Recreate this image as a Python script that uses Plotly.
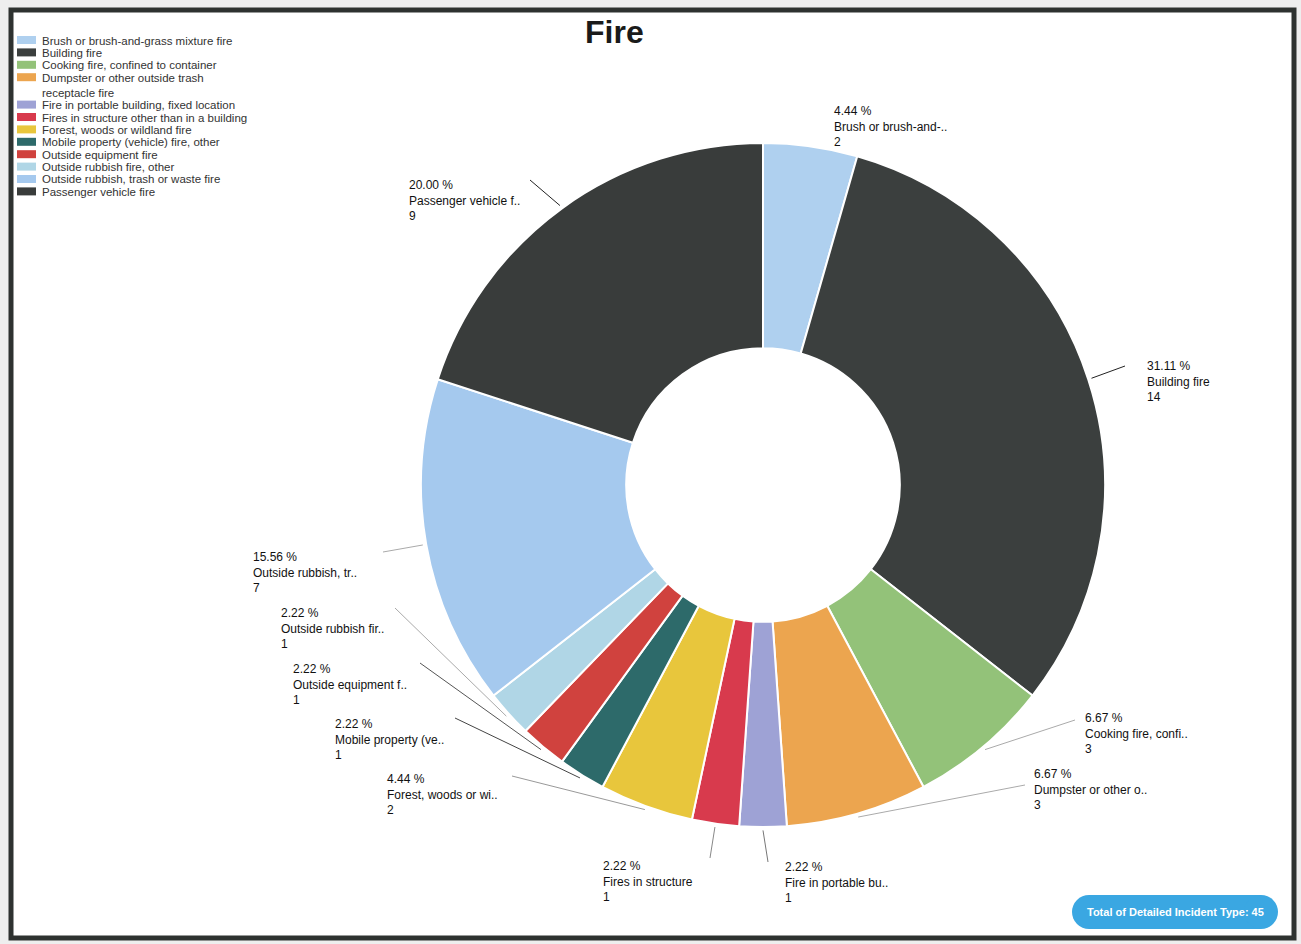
import math

import plotly.graph_objects as go

# Slice data (clockwise from 12 o'clock)
categories = [
    "Brush or brush-and-grass mixture fire",
    "Building fire",
    "Cooking fire, confined to container",
    "Dumpster or other outside trash receptacle fire",
    "Fire in portable building, fixed location",
    "Fires in structure other than in a building",
    "Forest, woods or wildland fire",
    "Mobile property (vehicle) fire, other",
    "Outside equipment fire",
    "Outside rubbish fire, other",
    "Outside rubbish, trash or waste fire",
    "Passenger vehicle fire",
]
counts = [2, 14, 3, 3, 1, 1, 2, 1, 1, 1, 7, 9]
short_labels = [
    "Brush or brush-and-..",
    "Building fire",
    "Cooking fire, confi..",
    "Dumpster or other o..",
    "Fire in portable bu..",
    "Fires in structure",
    "Forest, woods or wi..",
    "Mobile property (ve..",
    "Outside equipment f..",
    "Outside rubbish fir..",
    "Outside rubbish, tr..",
    "Passenger vehicle f..",
]
colors = [
    "#afd0ef", "#3b3f3e", "#93c279", "#eca54f", "#9ea2d5", "#d83a4d",
    "#e8c63c", "#2d6a6a", "#d0423e", "#b0d6e6", "#a5c9ee", "#393c3b",
]

W, H = 1301, 944
CX, CY, R = 763, 485, 342
HOLE = 0.40

# label placement (left x, top y) in pixels, and where each leader line ends
label_pos = [
    (832, 102), (1145, 357), (1083, 709), (1032, 765), (783, 858), (601, 857),
    (385, 770), (333, 715), (291, 660), (279, 604), (251, 548), (407, 176),
]
leader_end = [
    None, (1125, 366), (1075, 720), (1025, 785), (768, 862), (710, 858),
    (512, 776), (455, 718), (420, 663), (395, 608), (383, 552), (530, 180),
]
leader_color = [
    None, "#222222", "#aaaaaa", "#aaaaaa", "#777777", "#888888",
    "#999999", "#444444", "#555555", "#aaaaaa", "#aaaaaa", "#222222",
]


def px(x):
    return x / W


def py(y):
    return 1 - y / H


total = sum(counts)
FONT = "Liberation Sans, Arial, sans-serif"

fig = go.Figure(
    go.Pie(
        labels=categories,
        values=counts,
        sort=False,
        direction="clockwise",
        rotation=0,
        hole=HOLE,
        marker=dict(colors=colors, line=dict(color="white", width=2)),
        textinfo="none",
        hoverinfo="label+value+percent",
        showlegend=False,
        domain=dict(x=[px(CX - R), px(CX + R)], y=[py(CY + R), py(CY - R)]),
    )
)

shapes = [
    # scanned page frame
    dict(type="rect", xref="paper", yref="paper",
         x0=px(11), x1=px(1294), y0=py(938), y1=py(10),
         line=dict(color="#2e3230", width=5), fillcolor="white", layer="below"),
]
annotations = []

# slice labels + leader lines
cum = 0
for i, v in enumerate(counts):
    mid = (cum + v / 2) / total * 2 * math.pi
    cum += v
    ex = CX + R * 1.01 * math.sin(mid)
    ey = CY - R * 1.01 * math.cos(mid)
    if leader_end[i] is not None:
        lx, ly = leader_end[i]
        shapes.append(dict(type="line", xref="paper", yref="paper",
                           x0=px(ex), y0=py(ey), x1=px(lx), y1=py(ly),
                           line=dict(color=leader_color[i], width=1)))
    tx, ty = label_pos[i]
    annotations.append(dict(
        x=px(tx), y=py(ty), xref="paper", yref="paper",
        xanchor="left", yanchor="top", align="left", showarrow=False,
        text=f"{v / total * 100:.2f} %<br>{short_labels[i]}<br>{v}",
        font=dict(family=FONT, size=12, color="#111111"),
    ))

# hand-drawn compact legend
for i, name in enumerate(categories):
    y = 40 + 12.4 * i + (15 if i >= 4 else 0)
    shapes.append(dict(type="rect", xref="paper", yref="paper",
                       x0=px(17), x1=px(36), y0=py(y + 4), y1=py(y - 4),
                       fillcolor=colors[i], line=dict(width=0)))
    label = name.replace("outside trash receptacle", "outside trash<br>receptacle")
    annotations.append(dict(
        x=px(40), y=py(y - 7.5), xref="paper", yref="paper",
        xanchor="left", yanchor="top", align="left", showarrow=False,
        text=label, font=dict(family=FONT, size=11.5, color="#333333"),
    ))

# title
annotations.append(dict(
    x=px(614), y=py(32), xref="paper", yref="paper", showarrow=False,
    xanchor="center", yanchor="middle", text="<b>Fire</b>",
    font=dict(family=FONT, size=32, color="#1a1a1a"),
))

# total badge (pill)
bx0, bx1, by0, by1 = 1072, 1278, 895, 929
rad = (by1 - by0) / 2
badge = "#3aa7e2"
shapes += [
    dict(type="rect", xref="paper", yref="paper", x0=px(bx0 + rad), x1=px(bx1 - rad),
         y0=py(by1), y1=py(by0), fillcolor=badge, line=dict(width=0)),
    dict(type="circle", xref="paper", yref="paper", x0=px(bx0), x1=px(bx0 + 2 * rad),
         y0=py(by1), y1=py(by0), fillcolor=badge, line=dict(width=0)),
    dict(type="circle", xref="paper", yref="paper", x0=px(bx1 - 2 * rad), x1=px(bx1),
         y0=py(by1), y1=py(by0), fillcolor=badge, line=dict(width=0)),
]
annotations.append(dict(
    x=px((bx0 + bx1) / 2), y=py((by0 + by1) / 2), xref="paper", yref="paper",
    showarrow=False, xanchor="center", yanchor="middle",
    text=f"<b>Total of Detailed Incident Type: {total}</b>",
    font=dict(family=FONT, size=11, color="white"),
))

fig.update_layout(
    width=W,
    height=H,
    margin=dict(l=0, r=0, t=0, b=0),
    paper_bgcolor="#eeeeee",
    plot_bgcolor="white",
    shapes=shapes,
    annotations=annotations,
    showlegend=False,
)

# drop the browser's default body margin so the figure sits at 0,0
fig.write_html(
    "out.html",
    config={"displayModeBar": False},
    post_script="document.body.style.margin='0';document.body.style.overflow='hidden';",
)
